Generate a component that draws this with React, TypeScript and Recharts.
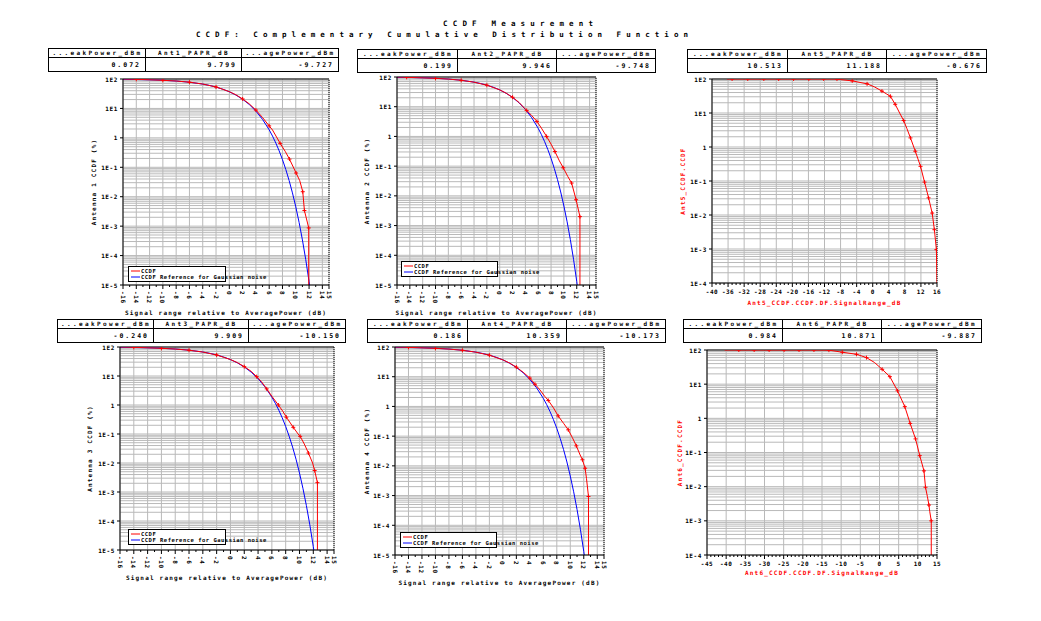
import React from 'react';
import { ComposedChart, Line, XAxis, YAxis, ReferenceLine, CartesianGrid, Legend } from 'recharts';

type P = [number, number, number?];

const MONO = "'DejaVu Sans Mono', monospace";

const pageTitle = 'CCDF Measurement';
const pageSubtitle = 'CCDF: Complementary Cumulative Distribution Function';

const headPeak = '...eakPower_dBm';
const headAvg = '...agePower_dBm';
const papr1 = 'Ant1_PAPR_dB';
const papr2 = 'Ant2_PAPR_dB';
const papr3 = 'Ant3_PAPR_dB';
const papr4 = 'Ant4_PAPR_dB';
const papr5 = 'Ant5_PAPR_dB';
const papr6 = 'Ant6_PAPR_dB';

const ant1Stats = ['0.072', '9.799', '-9.727'];
const ant2Stats = ['0.199', '9.946', '-9.748'];
const ant5Stats = ['10.513', '11.188', '-0.676'];
const ant3Stats = ['-0.240', '9.909', '-10.150'];
const ant4Stats = ['0.186', '10.359', '-10.173'];
const ant6Stats = ['0.984', '10.871', '-9.887'];

const legendLabels = ['CCDF', 'CCDF Reference for Gaussian noise'];
const xTitleRel = 'Signal range relative to AveragePower (dB)';

// Gaussian-noise reference (blue): [dB, %]
const gaussianRef: P[] = [
  [-16, 97.5], [-14, 96.1], [-12, 93.9], [-10, 90.5], [-8, 85.3], [-6, 77.8], [-4, 67.2], [-3, 60.6],
  [-2, 53.2], [-1, 45.2], [0, 36.8], [1, 28.4], [2, 20.5], [3, 13.6], [4, 8.11], [5, 4.23], [6, 1.87],
  [6.5, 1.15], [7, 0.666], [7.5, 0.361], [8, 0.182], [8.5, 0.0842], [9, 0.0355], [9.5, 0.0135],
  [10, 0.00454], [10.5, 0.00134], [11, 0.000341], [11.5, 0.0000733], [12, 0.0000131], [12.07, 0.00001],
];

const ant1Ccdf: P[] = [
  [-16, 100], [-14, 97.6, 1], [-12, 94], [-10, 90.3, 1], [-8, 85.5], [-6, 78, 1], [-4, 67.5], [-2, 53.6, 1],
  [0, 37.2], [1, 29], [2, 21, 1], [3, 14.3], [4, 8.8, 1], [5, 4.9], [6, 2.55, 1], [6.5, 1.85], [7.65, 0.65, 1],
  [8.4, 0.35], [9.05, 0.19, 1], [10.05, 0.064, 1], [10.6, 0.035], [11.05, 0.0148, 1], [11.3, 0.0034, 1],
  [11.95, 0.00087, 1], [11.95, 0.00001],
];

const ant2Ccdf: P[] = [
  [-16, 100], [-14.5, 97.5, 1], [-12, 93.5], [-10, 90, 1], [-8, 85], [-6, 77.5, 1], [-4, 67], [-2, 53, 1],
  [0, 37], [1, 28.5], [2, 20.8, 1], [3, 14], [4.2, 7.5, 1], [5, 5], [5.8, 3.2, 1], [6.5, 1.9], [7.3, 1.0, 1],
  [8, 0.55], [8.6, 0.31, 1], [9.3, 0.15], [9.9, 0.088, 1], [10.6, 0.045], [11.2, 0.027, 1], [11.9, 0.0074, 1],
  [12.5, 0.002, 1], [12.5, 0.00001],
];

const ant3Ccdf: P[] = [
  [-16, 100], [-14, 97.5, 1], [-12, 93.8], [-10, 90, 1], [-8, 85], [-6, 77.5, 1], [-4, 67], [-2, 53, 1],
  [0, 37], [1, 29], [2, 21, 1], [3, 14.5], [3.8, 9.5, 1], [4.5, 6.3], [5.25, 3.6, 1], [6, 2.0], [6.94, 1.0, 1],
  [7.6, 0.6], [8.1, 0.38, 1], [9.1, 0.17, 1], [9.8, 0.1], [10.1, 0.083, 1], [10.7, 0.045], [11.3, 0.022, 1],
  [11.9, 0.01], [12.2, 0.0055, 1], [12.6, 0.0021, 1], [12.6, 0.00001],
];

const ant4Ccdf: P[] = [
  [-16, 100], [-14, 97.4, 1], [-12, 93.6], [-10, 90, 1], [-8, 85], [-6, 77.5, 1], [-4, 67], [-2, 53, 1],
  [0, 37], [1, 28.8], [2, 21, 1], [3, 14.2], [4, 9.0, 1], [4.76, 5.6, 1], [5.5, 3.6], [6.2, 2.2], [6.74, 1.59, 1],
  [7.5, 0.9], [8.2, 0.48, 1], [9, 0.27], [9.7, 0.163, 1], [10.3, 0.09], [10.9, 0.047, 1], [11.4, 0.025],
  [11.8, 0.016, 1], [12.2, 0.0083, 1], [12.4, 0.0038], [12.7, 0.00093, 1], [12.7, 0.00001],
];

const ant5Ccdf: P[] = [
  [-36.3, 100], [-35, 100, 1], [-31.1, 100, 1], [-27.1, 100, 1], [-23.4, 100, 1], [-19.7, 100, 1], [-15.9, 100, 1],
  [-12.2, 100, 1], [-8.9, 99.5, 1], [-8, 96], [-5.1, 88, 1], [-1.4, 72, 1], [0.5, 58], [2.3, 44, 1], [3.5, 36],
  [4.4, 31, 1], [5.6, 18, 1], [6.7, 10], [7.7, 6.0, 1], [8.5, 3.5], [9.4, 1.85, 1], [10.6, 0.75, 1],
  [11.9, 0.27, 1], [12.9, 0.093, 1], [13.9, 0.032, 1], [14.8, 0.0114, 1], [15.35, 0.0037, 1], [15.85, 0.00096, 1],
  [16, 0.0001],
];

const ant6Ccdf: P[] = [
  [-40.4, 100], [-36.7, 100, 1], [-32.7, 100, 1], [-28.8, 100, 1], [-24.9, 100, 1], [-21, 100, 1], [-17.1, 100, 1],
  [-13.2, 99, 1], [-9.7, 86, 1], [-6, 75, 1], [-3.4, 60, 1], [-1.3, 43], [0.7, 27.2, 1], [2.7, 16.6, 1],
  [4.7, 6.4, 1], [6.6, 2.2, 1], [8.0, 0.71, 1], [9.4, 0.25, 1], [10.5, 0.081, 1], [11.6, 0.029, 1],
  [12.0, 0.0096, 1], [12.5, 0.0051], [12.9, 0.0029, 1], [13.1, 0.0019], [13.5, 0.001, 1], [13.5, 0.0001],
];

const relXLabels = [-16, -14, -12, -10, -8, -6, -4, -2, 0, 2, 4, 6, 8, 10, 12, 14, 15];
const ant5XLabels = [-40, -36, -32, -28, -24, -20, -16, -12, -8, -4, 0, 4, 8, 12, 16];
const ant6XLabels = [-45, -40, -35, -30, -25, -20, -15, -10, -5, 0, 5, 10, 15];
const decadeValues = [100, 10, 1, 0.1, 0.01, 0.001, 0.0001, 0.00001];
const decadeLabels = ['1E2', '1E1', '1', '1E-1', '1E-2', '1E-3', '1E-4', '1E-5'];

const RED = '#ff0000';
const BLUE = '#0000ff';
const GRID = '#b9b9b9';

const rows = (pts: P[]) => pts.map(([x, y, m]) => ({ x, y, m: !!m }));

function intTicks(lo: number, hi: number, labels: number[]) {
  const out: number[] = [];
  for (let v = Math.ceil(lo); v <= Math.floor(hi); v++) out.push(v);
  labels.forEach((l) => { if (!out.includes(l)) out.push(l); });
  return out.sort((a, b) => a - b);
}

function logTicks(lo: number, hi: number) {
  const out: number[] = [];
  const k0 = Math.round(Math.log10(lo));
  const k1 = Math.round(Math.log10(hi));
  for (let k = k0; k < k1; k++) {
    for (let m = 1; m <= 9; m++) out.push(Number((m * Math.pow(10, k)).toPrecision(3)));
  }
  out.push(hi);
  return out;
}

function makeXTick(labels: number[], rotated: boolean) {
  return (props: any) => {
    const { x, y, payload } = props;
    const v = payload.value;
    const major = labels.some((l) => Math.abs(l - v) < 1e-9);
    return (
      <g>
        <line x1={x} x2={x} y1={y} y2={y + (major ? 4 : 2)} stroke="#000" strokeWidth={1} />
        {major && rotated && (
          <text transform={`translate(${x},${y + 6}) rotate(90)`} textAnchor="start" dominantBaseline="central"
            fontFamily={MONO} fontWeight="bold" fontSize={6} letterSpacing={0.6} fill="#000">{String(v)}</text>
        )}
        {major && !rotated && (
          <text x={x} y={y + 11} textAnchor="middle" fontFamily={MONO} fontWeight="bold" fontSize={6}
            letterSpacing={0.5} fill="#000">{String(v)}</text>
        )}
      </g>
    );
  };
}

function makeYTick() {
  return (props: any) => {
    const { x, y, payload } = props;
    const lv = Math.log10(payload.value);
    const idx = decadeValues.findIndex((d) => Math.abs(Math.log10(d) - lv) < 1e-6);
    if (idx < 0) return <g />;
    return (
      <g>
        <line x1={x - 3} x2={x} y1={y} y2={y} stroke="#000" strokeWidth={1} />
        <text x={x - 5} y={y} dominantBaseline="central" textAnchor="end" fontFamily={MONO} fontWeight="bold"
          fontSize={6} letterSpacing={0.6} fill="#000">{decadeLabels[idx]}</text>
      </g>
    );
  };
}

const crossDot = (color: string) => (props: any) => {
  const { cx, cy, payload, index } = props;
  if (!payload || !payload.m || cx == null || cy == null) return <g key={`d${index}`} />;
  return (
    <g key={`d${index}`}>
      <line x1={cx - 2} x2={cx + 2} y1={cy} y2={cy} stroke={color} strokeWidth={1} />
      <line x1={cx} x2={cx} y1={cy - 2} y2={cy + 2} stroke={color} strokeWidth={1} />
    </g>
  );
};

type Panel = {
  key: string;
  plot: { x: number; y: number; w: number; h: number };
  xDomain: [number, number];
  xLabels: number[];
  yDomain: [number, number];
  rotated: boolean;
  red: P[];
  blue?: P[];
  yTitle: string;
  yTitleX: number;
  xTitle: string;
  xTitleY: number;
  titleColor: string;
  table: { x: number; y: number; cols: number[] };
  heads: string[];
  stats: string[];
  legend?: { x: number; y: number; w: number; h: number };
};

const panels: Panel[] = [
  {
    key: 'a1', plot: { x: 123, y: 79, w: 206, h: 206 }, xDomain: [-16, 15], xLabels: relXLabels, yDomain: [0.00001, 100],
    rotated: true, red: ant1Ccdf, blue: gaussianRef, yTitle: 'Antenna 1 CCDF (%)', yTitleX: 93, xTitle: xTitleRel,
    xTitleY: 315, titleColor: '#000', table: { x: 48, y: 48, cols: [97, 96, 97] }, heads: [headPeak, papr1, headAvg],
    stats: ant1Stats, legend: { x: 128, y: 266, w: 98, h: 16 },
  },
  {
    key: 'a2', plot: { x: 397, y: 77, w: 199, h: 208 }, xDomain: [-16, 15], xLabels: relXLabels, yDomain: [0.00001, 100],
    rotated: true, red: ant2Ccdf, blue: gaussianRef, yTitle: 'Antenna 2 CCDF (%)', yTitleX: 366, xTitle: xTitleRel,
    xTitleY: 315, titleColor: '#000', table: { x: 357, y: 49, cols: [100, 99, 99] }, heads: [headPeak, papr2, headAvg],
    stats: ant2Stats, legend: { x: 401, y: 261, w: 97, h: 16 },
  },
  {
    key: 'a5', plot: { x: 712, y: 79, w: 225, h: 204 }, xDomain: [-40, 16], xLabels: ant5XLabels, yDomain: [0.0001, 100],
    rotated: false, red: ant5Ccdf, yTitle: 'Ant5_CCDF.CCDF', yTitleX: 682, xTitle: 'Ant5_CCDF.CCDF.DF.SignalRange_dB',
    xTitleY: 305, titleColor: RED, table: { x: 687, y: 49, cols: [100, 99, 100] }, heads: [headPeak, papr5, headAvg],
    stats: ant5Stats,
  },
  {
    key: 'a3', plot: { x: 120, y: 347, w: 214, h: 203 }, xDomain: [-16, 15], xLabels: relXLabels, yDomain: [0.00001, 100],
    rotated: true, red: ant3Ccdf, blue: gaussianRef, yTitle: 'Antenna 3 CCDF (%)', yTitleX: 89, xTitle: xTitleRel,
    xTitleY: 580, titleColor: '#000', table: { x: 57, y: 319, cols: [96, 95, 97] }, heads: [headPeak, papr3, headAvg],
    stats: ant3Stats, legend: { x: 128, y: 529, w: 98, h: 16 },
  },
  {
    key: 'a4', plot: { x: 395, y: 347, w: 209, h: 208 }, xDomain: [-16, 15], xLabels: relXLabels, yDomain: [0.00001, 100],
    rotated: true, red: ant4Ccdf, blue: gaussianRef, yTitle: 'Antenna 4 CCDF (%)', yTitleX: 366, xTitle: xTitleRel,
    xTitleY: 585, titleColor: '#000', table: { x: 367, y: 319, cols: [100, 99, 99] }, heads: [headPeak, papr4, headAvg],
    stats: ant4Stats, legend: { x: 400, y: 532, w: 97, h: 16 },
  },
  {
    key: 'a6', plot: { x: 707, y: 350, w: 230, h: 205 }, xDomain: [-45, 15], xLabels: ant6XLabels, yDomain: [0.0001, 100],
    rotated: false, red: ant6Ccdf, yTitle: 'Ant6_CCDF.CCDF', yTitleX: 679, xTitle: 'Ant6_CCDF.CCDF.DF.SignalRange_dB',
    xTitleY: 575, titleColor: RED, table: { x: 683, y: 319, cols: [99, 99, 100] }, heads: [headPeak, papr6, headAvg],
    stats: ant6Stats,
  },
];

const AXW = 40;
const TOPM = 10;
const RIGHTM = 10;
const AXH = 50;

function PanelChart({ p }: { p: Panel }) {
  const left = p.plot.x - AXW;
  const top = p.plot.y - TOPM;
  const width = p.plot.w + AXW + RIGHTM;
  const height = p.plot.h + TOPM + AXH;
  const xt = intTicks(p.xDomain[0], p.xDomain[1], p.xLabels);
  const yt = logTicks(p.yDomain[0], p.yDomain[1]);
  const lg = p.legend;
  const legendContent = () => (
    <svg width={lg!.w} height={lg!.h} style={{ display: 'block', overflow: 'visible' }}>
      <rect x={0.5} y={0.5} width={lg!.w - 1} height={lg!.h - 1} fill="#fff" stroke="#000" strokeWidth={1} />
      <line x1={3} x2={12} y1={5} y2={5} stroke={RED} strokeWidth={1} />
      <text x={13} y={5} dominantBaseline="central" fontFamily={MONO} fontWeight="bold" fontSize={5.5} letterSpacing={0.5}>{legendLabels[0]}</text>
      <line x1={3} x2={12} y1={11} y2={11} stroke={BLUE} strokeWidth={1} />
      <text x={13} y={11} dominantBaseline="central" fontFamily={MONO} fontWeight="bold" fontSize={5.5} letterSpacing={0.5}>{legendLabels[1]}</text>
    </svg>
  );
  return (
    <div style={{ position: 'absolute', left, top, width, height, overflow: 'visible' }}>
      <ComposedChart width={width} height={height} margin={{ top: TOPM, right: RIGHTM, left: 0, bottom: 0 }} style={{ overflow: 'visible' }}>
        <CartesianGrid stroke={GRID} strokeWidth={1} horizontalValues={yt} verticalValues={p.xLabels} />
        <XAxis type="number" dataKey="x" domain={p.xDomain} ticks={xt} interval={0} allowDataOverflow height={AXH}
          tickSize={0} tickMargin={0} tickLine={false} axisLine={{ stroke: '#000', strokeWidth: 1 }}
          tick={makeXTick(p.xLabels, p.rotated)} />
        <YAxis type="number" scale="log" domain={p.yDomain} ticks={yt} interval={0} allowDataOverflow width={AXW}
          tickSize={0} tickMargin={0} tickLine={false} axisLine={{ stroke: '#000', strokeWidth: 1 }} tick={makeYTick()} />
        <ReferenceLine y={p.yDomain[1]} stroke="#000" strokeWidth={1} />
        <ReferenceLine x={p.xDomain[1]} stroke="#000" strokeWidth={1} strokeDasharray="1 1" />
        {p.blue && (
          <Line data={rows(p.blue)} dataKey="y" type="linear" stroke={BLUE} strokeWidth={1} dot={false}
            isAnimationActive={false} name={legendLabels[1]} />
        )}
        <Line data={rows(p.red)} dataKey="y" type="linear" stroke={RED} strokeWidth={1} dot={crossDot(RED)}
          isAnimationActive={false} name={legendLabels[0]} />
        {lg && (
          <Legend layout="vertical" align="center" verticalAlign="middle" content={legendContent}
            wrapperStyle={{ position: 'absolute', left: lg.x - left, top: lg.y - top, width: lg.w, height: lg.h, right: 'auto', bottom: 'auto', margin: 0, padding: 0, overflow: 'visible' }} />
        )}
      </ComposedChart>
    </div>
  );
}

function Table({ p }: { p: Panel }) {
  const { x, y, cols } = p.table;
  const w = cols[0] + cols[1] + cols[2];
  const hh = 9;
  const vh = 14;
  const edges = [x, x + cols[0], x + cols[0] + cols[1], x + w];
  return (
    <g>
      <rect x={x + 0.5} y={y + 0.5} width={w} height={hh + vh} fill="#fff" stroke="#000" strokeWidth={1} />
      <line x1={x} x2={x + w} y1={y + hh + 0.5} y2={y + hh + 0.5} stroke="#000" strokeWidth={1} />
      <line x1={edges[1] + 0.5} x2={edges[1] + 0.5} y1={y} y2={y + hh + vh} stroke="#000" strokeWidth={1} />
      <line x1={edges[2] + 0.5} x2={edges[2] + 0.5} y1={y} y2={y + hh + vh} stroke="#000" strokeWidth={1} />
      {p.heads.map((h, i) => (
        <text key={`h${i}`} x={(edges[i] + edges[i + 1]) / 2 + 1} y={y + 7} textAnchor="middle" fontFamily={MONO}
          fontWeight="bold" fontSize={6} letterSpacing={2.4}>{h}</text>
      ))}
      {p.stats.map((s, i) => (
        <text key={`v${i}`} x={edges[i + 1] - 4} y={y + hh + 10} textAnchor="end" fontFamily={MONO}
          fontWeight="bold" fontSize={6.5} letterSpacing={2}>{s}</text>
      ))}
    </g>
  );
}

export default function App() {
  return (
    <div style={{ position: 'absolute', left: 0, top: 0, width: 1041, height: 621, background: '#fff', overflow: 'hidden' }}>
      {panels.map((p) => <PanelChart key={p.key} p={p} />)}
      <svg width={1041} height={621} style={{ position: 'absolute', left: 0, top: 0, pointerEvents: 'none' }}>
        <text x={443} y={26} fontFamily={MONO} fontWeight="bold" fontSize={7.5} textLength={150} lengthAdjust="spacing">{pageTitle}</text>
        <text x={196} y={37} fontFamily={MONO} fontWeight="bold" fontSize={7.5} textLength={492} lengthAdjust="spacing">{pageSubtitle}</text>
        {panels.map((p) => (
          <g key={`o${p.key}`}>
            <Table p={p} />
            <text transform={`translate(${p.yTitleX},${p.plot.y + p.plot.h / 2}) rotate(-90)`} textAnchor="middle"
              dominantBaseline="central" fontFamily={MONO} fontWeight="bold" fontSize={6} letterSpacing={1.2}
              fill={p.titleColor}>{p.yTitle}</text>
            <text x={p.plot.x + p.plot.w / 2} y={p.xTitleY} textAnchor="middle" fontFamily={MONO} fontWeight="bold"
              fontSize={6} letterSpacing={1.2} fill={p.titleColor}>{p.xTitle}</text>
          </g>
        ))}
      </svg>
    </div>
  );
}
